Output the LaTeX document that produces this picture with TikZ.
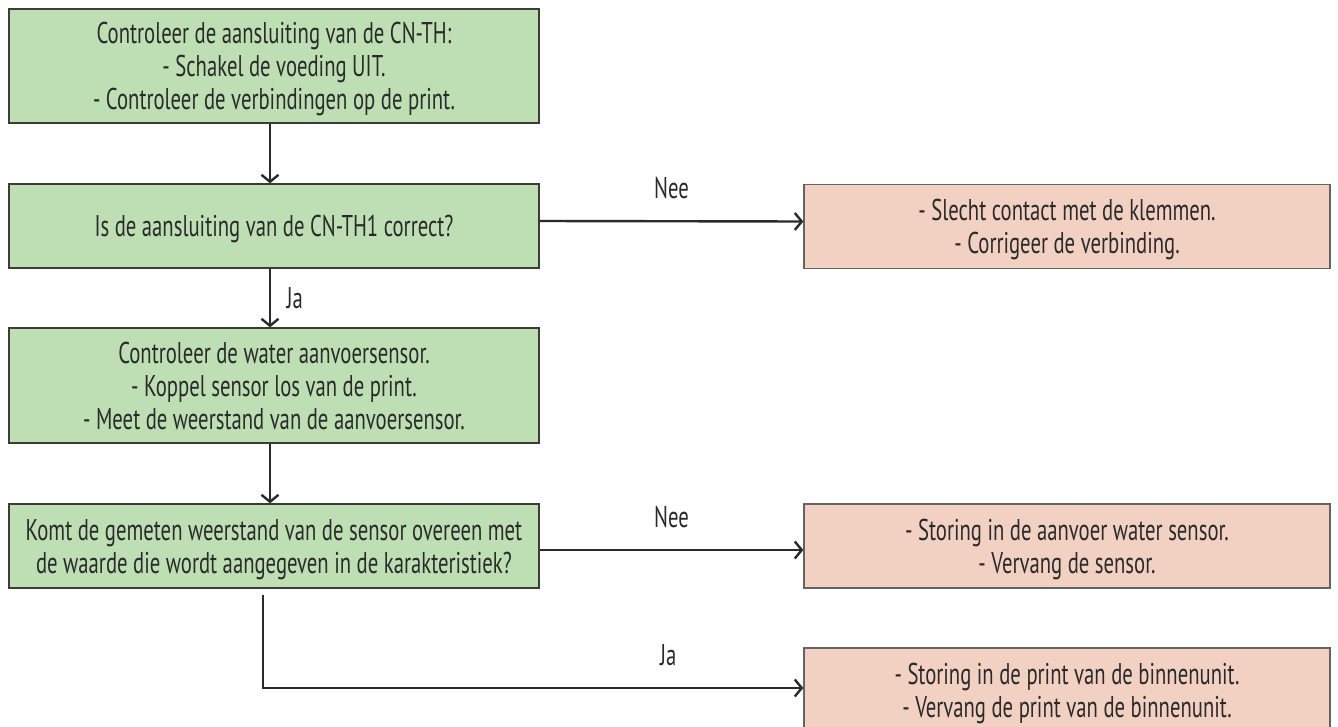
\documentclass[tikz,border=0pt]{standalone}
\usepackage{fontspec}
\setmainfont[FakeStretch=0.69]{PT Sans}
\usetikzlibrary{arrows.meta}
\definecolor{groen}{HTML}{BEDFB4}
\definecolor{rood}{HTML}{F2D1C3}
\definecolor{rand}{HTML}{3C3C3C}
\definecolor{tekst}{HTML}{2A2A2A}
\begin{document}
\begin{tikzpicture}[
  x=1pt, y=-1pt,
  groenbox/.style={draw=rand, line width=1.3pt, fill=groen, rectangle, minimum width=530pt,
                   align=center, font=\fontsize{30}{33}\selectfont, text=tekst, inner sep=0pt,
                   text depth=0pt},
  roodbox/.style={draw=rand!80, line width=1.3pt, fill=rood, rectangle, minimum width=526pt,
                  minimum height=84pt, align=center, font=\fontsize{30}{33}\selectfont, text=tekst,
                  inner sep=0pt, text depth=0pt},
  pijl/.style={line width=2.4pt, tekst, -{Straight Barb[length=7pt,width=17pt,line width=2.4pt]}},
  lbl/.style={font=\fontsize{30}{32}\selectfont, text=tekst}
]
\useasboundingbox (0,0) rectangle (1338,727);
\node[groenbox, minimum height=114pt] (b1) at (274,66) {Controleer de aansluiting van de CN-TH:\\ - Schakel de voeding UIT.\\ - Controleer de verbindingen op de print.};
\node[groenbox, minimum height=84pt] (b2) at (274,226) {Is de aansluiting van de CN-TH1 correct?};
\node[groenbox, minimum height=115pt] (b3) at (274,385.5) {Controleer de water aanvoersensor.\\ - Koppel sensor los van de print.\\ - Meet de weerstand van de aanvoersensor.};
\node[groenbox, minimum height=84pt] (b4) at (274,546) {Komt de gemeten weerstand van de sensor overeen met\\ de waarde die wordt aangegeven in de karakteristiek?};
\node[roodbox] (r1) at (1067,226.5) {- Slecht contact met de klemmen.\\ - Corrigeer de verbinding.};
\node[roodbox] (r2) at (1067,546) {- Storing in de aanvoer water sensor.\\ - Vervang de sensor.};
\node[roodbox] (r3) at (1067,690) {- Storing in de print van de binnenunit.\\ - Vervang de print van de binnenunit.};

\draw[pijl] ([xshift=-4pt]b1.south) -- ([xshift=-4pt]b2.north);
\draw[pijl] ([xshift=-4pt]b2.south) -- node[lbl, right=12pt] {Ja} ([xshift=-4pt]b3.north);
\draw[pijl] ([xshift=-4pt]b3.south) -- ([xshift=-4pt]b4.north);
\draw[pijl] ([yshift=5pt]b2.east) -- node[lbl, above=18pt] {Nee} ([yshift=5pt]r1.west);
\draw[pijl] ([yshift=-4pt]b4.east) -- node[lbl, above=18pt] {Nee} ([yshift=-4pt]r2.west);
\draw[pijl] ([xshift=-11pt,yshift=-6pt]b4.south) |- node[lbl, pos=0.875, above=18pt] {Ja} ([yshift=2pt]r3.west);
\end{tikzpicture}
\end{document}
